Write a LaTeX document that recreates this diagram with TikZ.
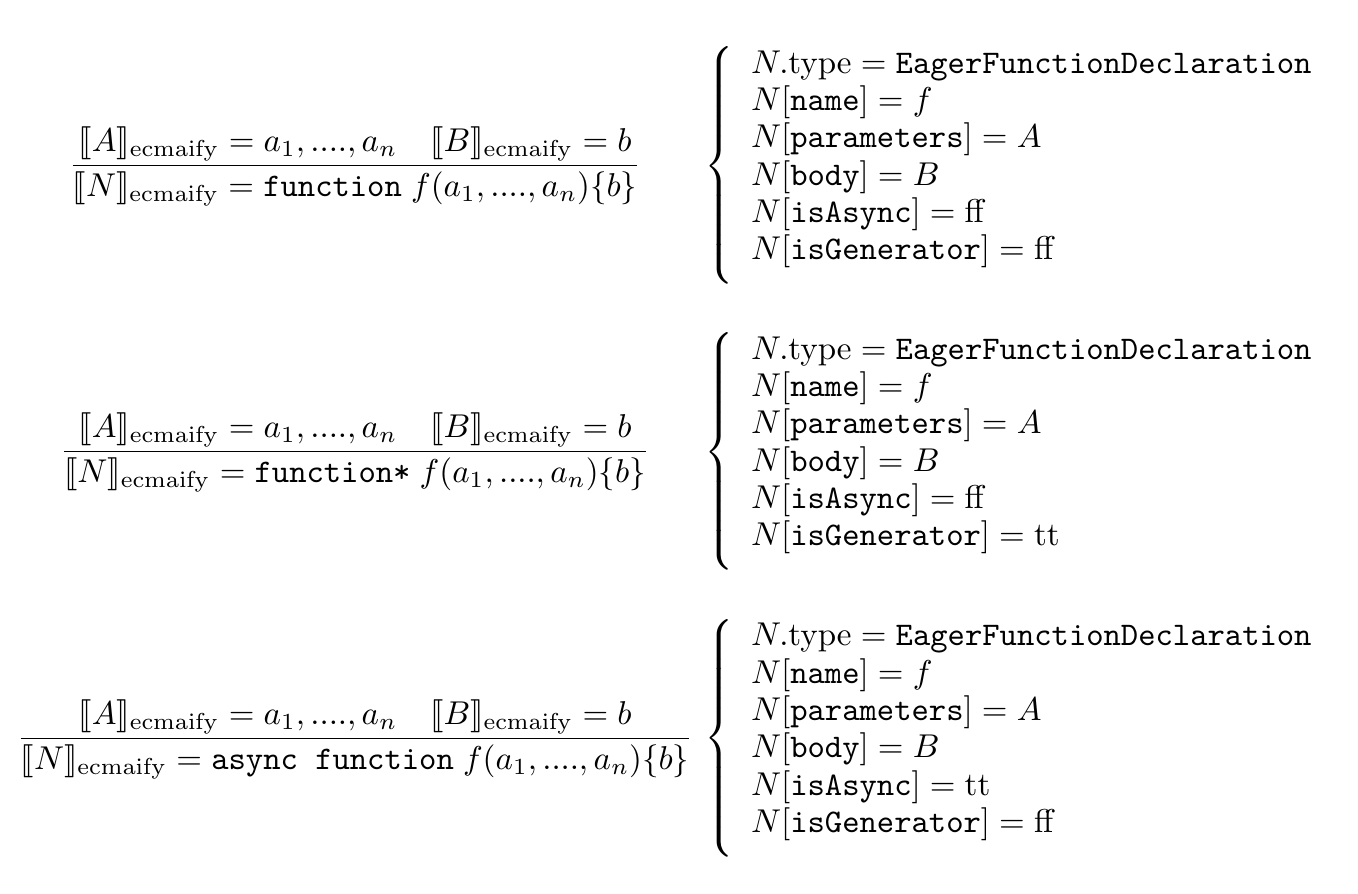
\documentclass[tikz,border=0pt]{standalone}
\usepackage{amsmath,stmaryrd}
\newcommand{\semq}[1]{\llbracket #1\rrbracket_{\mathrm{ecmaify}}}
\newcommand{\propsq}[2]{\left\{\vrule height 38.5pt depth 33.5pt width 0pt\right.%
\raisebox{2pt}{$\renewcommand{\arraystretch}{0.942}\begin{array}{@{\hspace{2.3pt}}l@{}}
N.\mathrm{type}=\texttt{EagerFunctionDeclaration}\\
N[\texttt{name}]=f\\
N[\texttt{parameters}]=A\\
N[\texttt{body}]=B\\
N[\texttt{isAsync}]=\mathrm{#1}\\
N[\texttt{isGenerator}]=\mathrm{#2}
\end{array}$}}
\newcommand{\premq}{\semq{A}=a_1, ...., a_n\quad\semq{B}=b}
\begin{document}
\begin{tikzpicture}[x=0.30303pt,y=-0.30303pt]
\useasboundingbox (0,0) rectangle (1358,894);
\tikzset{rulebox/.style={inner sep=0pt, anchor=base},
         attrbox/.style={inner sep=0pt, anchor=base west}}
\node[rulebox] (r1) at (355,174) {$\displaystyle\frac{\premq}{\semq{N}=\texttt{function}\;f(a_1, ...., a_n)\{b\}}$};
\node[attrbox] (c1) at (704,174) {$\propsq{ff}{ff}$};
\node[rulebox] (r2) at (355,460) {$\displaystyle\frac{\premq}{\semq{N}=\texttt{function*}\;f(a_1, ...., a_n)\{b\}}$};
\node[attrbox] (c2) at (704,460) {$\propsq{ff}{tt}$};
\node[rulebox] (r3) at (355,746.5) {$\displaystyle\frac{\premq}{\semq{N}=\texttt{async function}\;f(a_1, ...., a_n)\{b\}}$};
\node[attrbox] (c3) at (704,746.5) {$\propsq{tt}{ff}$};
\end{tikzpicture}
\end{document}
